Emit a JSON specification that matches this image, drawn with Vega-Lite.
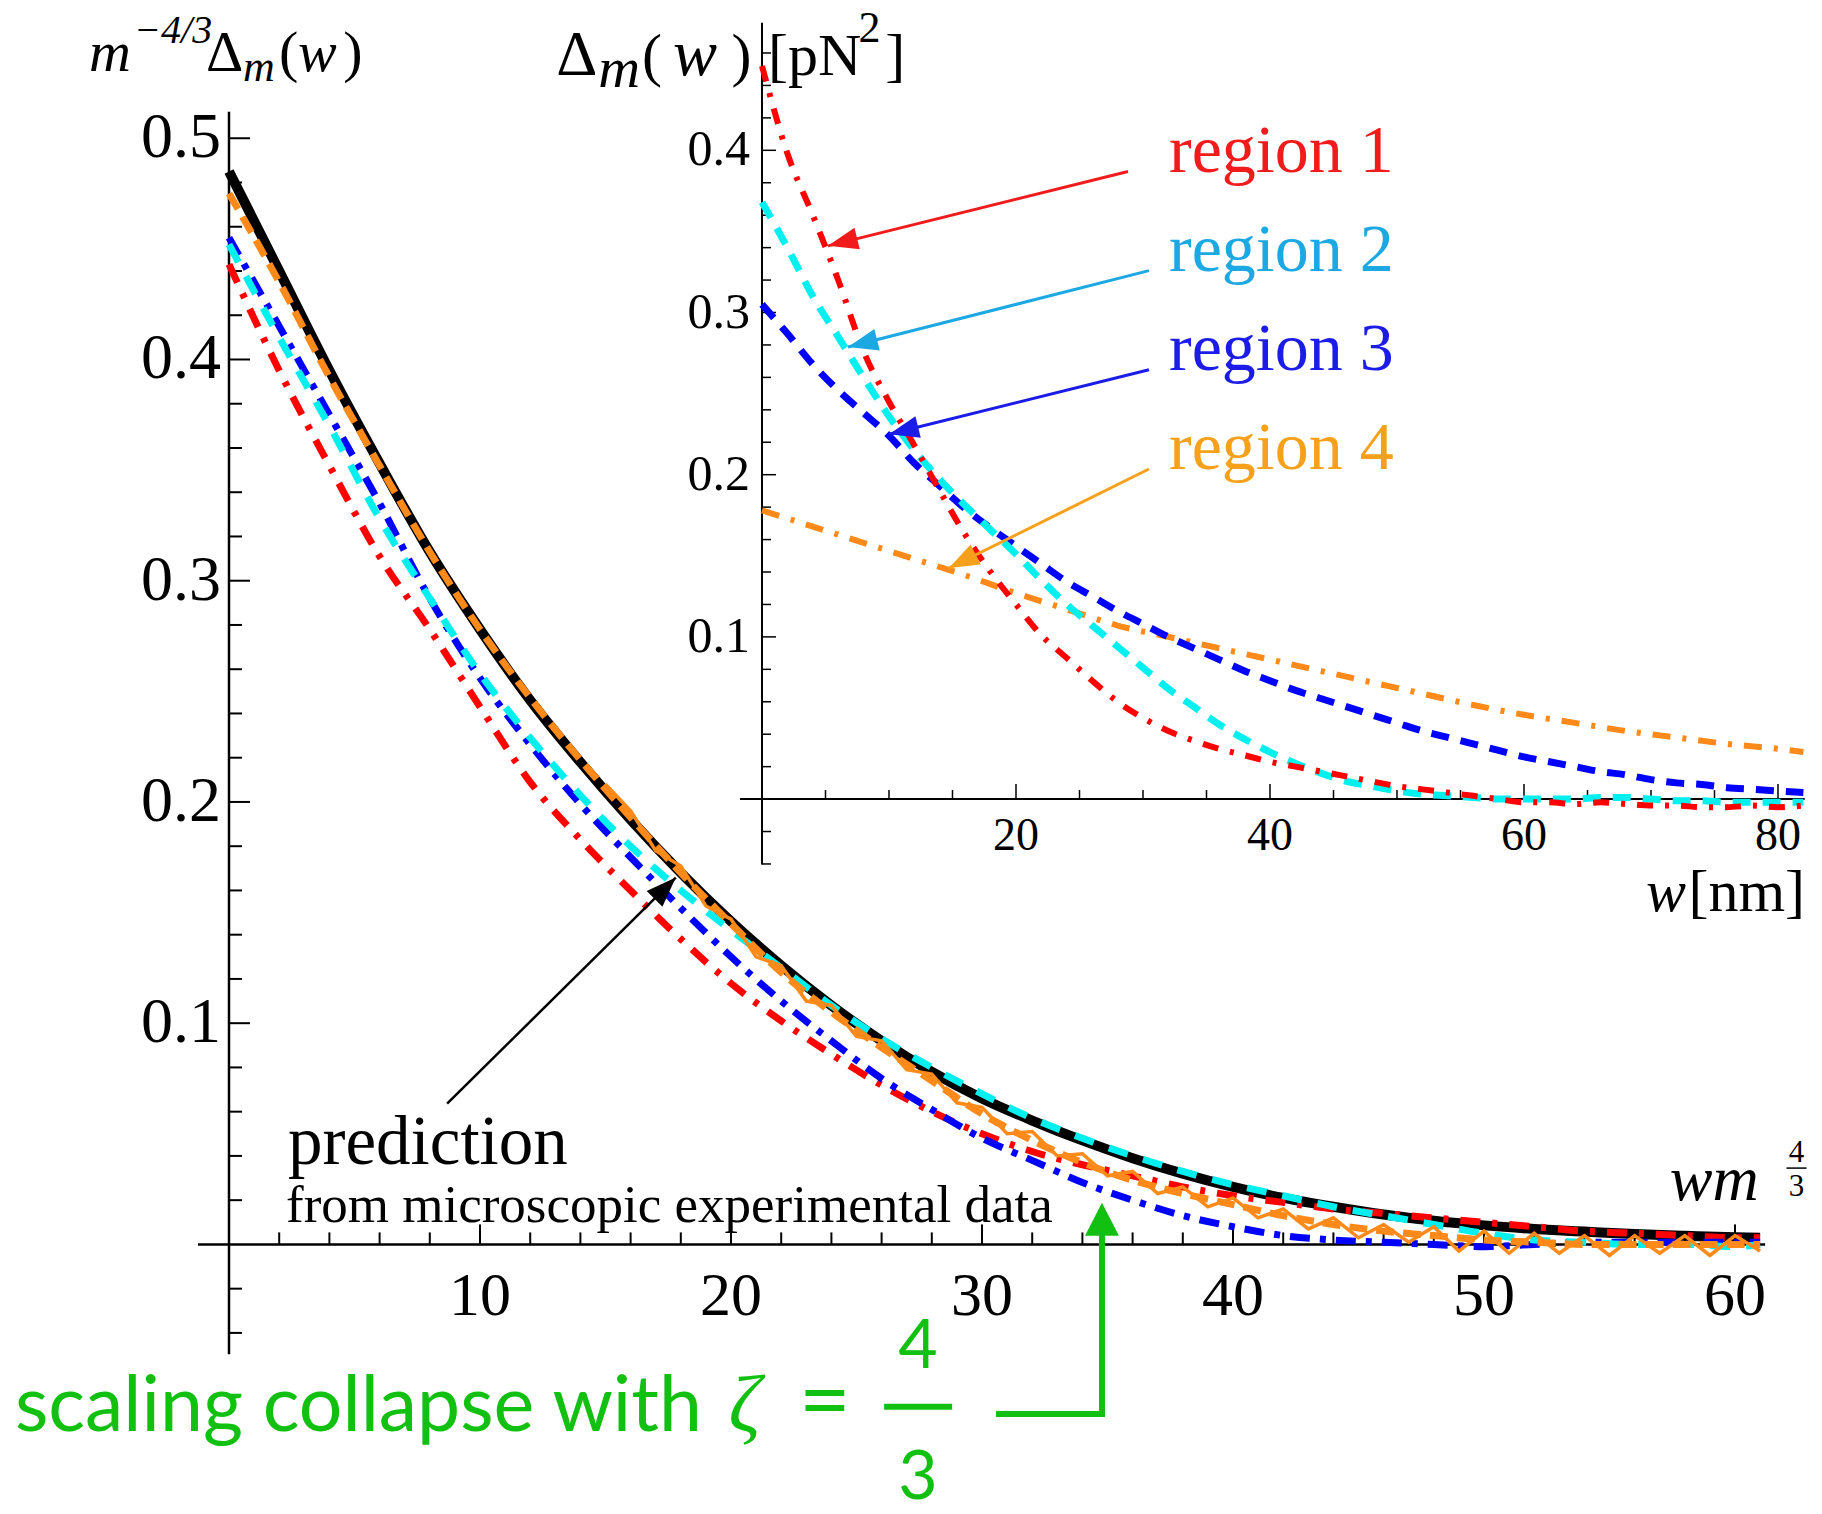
{
  "$schema": "https://vega.github.io/schema/vega-lite/v6.json",
  "width": 1822,
  "height": 1514,
  "autosize": {"type": "fit", "contains": "padding"},
  "padding": 0,
  "background": "white",
  "config": {"view": {"stroke": null}},
  "resolve": {"scale": {"x": "independent", "y": "independent"}},
  "layer": [
    {
      "encoding": {
        "x": {"field": "x", "type": "quantitative", "scale": {"domain": [-9.1235, 63.466], "nice": false, "zero": false}, "axis": null},
        "y": {"field": "y", "type": "quantitative", "scale": {"domain": [-0.11598, 0.56249], "nice": false, "zero": false}, "axis": null}
      },
      "layer": [
        {
          "data": {"values": [{"x": 0, "y": -0.0497, "x2": 0, "y2": 0.512}, {"x": -1.235, "y": 0, "x2": 61.2, "y2": 0}]},
          "mark": {"type": "rule", "color": "black", "strokeWidth": 2.5},
          "encoding": {"x2": {"field": "x2"}, "y2": {"field": "y2"}}
        },
        {
          "data": {"values": [{"x":0,"y":-0.04},{"x":0,"y":-0.02},{"x":0,"y":0.02},{"x":0,"y":0.04},{"x":0,"y":0.06},{"x":0,"y":0.08},{"x":0,"y":0.12},{"x":0,"y":0.14},{"x":0,"y":0.16},{"x":0,"y":0.18},{"x":0,"y":0.22},{"x":0,"y":0.24},{"x":0,"y":0.26},{"x":0,"y":0.28},{"x":0,"y":0.32},{"x":0,"y":0.34},{"x":0,"y":0.36},{"x":0,"y":0.38},{"x":0,"y":0.42},{"x":0,"y":0.44},{"x":0,"y":0.46},{"x":0,"y":0.48}]},
          "mark": {"type": "tick", "orient": "horizontal", "size": 13, "thickness": 2, "xOffset": 6.5, "color": "black", "opacity": 1}
        },
        {
          "data": {"values": [{"x":0,"y":0.1,"t":"0.1"},{"x":0,"y":0.2,"t":"0.2"},{"x":0,"y":0.3,"t":"0.3"},{"x":0,"y":0.4,"t":"0.4"},{"x":0,"y":0.5,"t":"0.5"}]},
          "layer": [
            {"mark": {"type": "tick", "orient": "horizontal", "size": 21, "thickness": 2, "xOffset": 10.5, "color": "black", "opacity": 1}},
            {"mark": {"type": "text", "align": "right", "baseline": "middle", "dx": -8, "font": "Liberation Serif", "fontSize": 64, "color": "black"}, "encoding": {"text": {"field": "t"}}}
          ]
        },
        {
          "data": {"values": [{"x":2,"y":0},{"x":4,"y":0},{"x":6,"y":0},{"x":8,"y":0},{"x":12,"y":0},{"x":14,"y":0},{"x":16,"y":0},{"x":18,"y":0},{"x":22,"y":0},{"x":24,"y":0},{"x":26,"y":0},{"x":28,"y":0},{"x":32,"y":0},{"x":34,"y":0},{"x":36,"y":0},{"x":38,"y":0},{"x":42,"y":0},{"x":44,"y":0},{"x":46,"y":0},{"x":48,"y":0},{"x":52,"y":0},{"x":54,"y":0},{"x":56,"y":0},{"x":58,"y":0}]},
          "mark": {"type": "tick", "orient": "vertical", "size": 12, "thickness": 2, "yOffset": -6, "color": "black", "opacity": 1}
        },
        {
          "data": {"values": [{"x":10,"y":0,"t":"10"},{"x":20,"y":0,"t":"20"},{"x":30,"y":0,"t":"30"},{"x":40,"y":0,"t":"40"},{"x":50,"y":0,"t":"50"},{"x":60,"y":0,"t":"60"}]},
          "layer": [
            {"mark": {"type": "tick", "orient": "vertical", "size": 20, "thickness": 2, "yOffset": -10, "color": "black", "opacity": 1}},
            {"mark": {"type": "text", "align": "center", "baseline": "middle", "dy": 52, "font": "Liberation Serif", "fontSize": 62, "color": "black"}, "encoding": {"text": {"field": "t"}}}
          ]
        },
        {
          "data": {"values": [{"x":0,"y":0.485},{"x":2,"y":0.44},{"x":4,"y":0.395},{"x":6,"y":0.353},{"x":8,"y":0.313},{"x":10,"y":0.278},{"x":12,"y":0.246},{"x":14,"y":0.218},{"x":16,"y":0.192},{"x":18,"y":0.168},{"x":20,"y":0.146},{"x":22,"y":0.126},{"x":24,"y":0.108},{"x":26,"y":0.092},{"x":28,"y":0.078},{"x":30,"y":0.066},{"x":32,"y":0.056},{"x":34,"y":0.047},{"x":36,"y":0.039},{"x":38,"y":0.032},{"x":40,"y":0.026},{"x":42,"y":0.021},{"x":44,"y":0.017},{"x":46,"y":0.0135},{"x":48,"y":0.0107},{"x":50,"y":0.0086},{"x":52,"y":0.007},{"x":54,"y":0.0058},{"x":56,"y":0.0047},{"x":58,"y":0.0039},{"x":60,"y":0.0032},{"x":61,"y":0.003}]},
          "mark": {"type": "line", "color": "black", "strokeWidth": 10, "interpolate": "monotone"}
        },
        {
          "data": {"values": [{"x":0,"y":0.443},{"x":2,"y":0.395},{"x":4,"y":0.352},{"x":6,"y":0.311},{"x":8,"y":0.278},{"x":10,"y":0.243},{"x":12,"y":0.209},{"x":14,"y":0.183},{"x":16,"y":0.16},{"x":18,"y":0.138},{"x":20,"y":0.118},{"x":22,"y":0.101},{"x":24,"y":0.086},{"x":26,"y":0.072},{"x":28,"y":0.06},{"x":30,"y":0.05},{"x":32,"y":0.042},{"x":34,"y":0.036},{"x":36,"y":0.031},{"x":38,"y":0.026},{"x":40,"y":0.022},{"x":42,"y":0.019},{"x":44,"y":0.016},{"x":46,"y":0.014},{"x":48,"y":0.012},{"x":50,"y":0.01},{"x":52,"y":0.008},{"x":54,"y":0.006},{"x":56,"y":0.005},{"x":58,"y":0.004},{"x":60,"y":0.003},{"x":61,"y":0.003}]},
          "mark": {"type": "line", "color": "#FF0000", "strokeWidth": 7, "strokeDash": [20, 12, 5, 12], "interpolate": "monotone"}
        },
        {
          "data": {"values": [{"x":0,"y":0.455},{"x":2,"y":0.415},{"x":4,"y":0.375},{"x":6,"y":0.335},{"x":8,"y":0.292},{"x":10,"y":0.256},{"x":12,"y":0.226},{"x":14,"y":0.199},{"x":16,"y":0.175},{"x":18,"y":0.152},{"x":20,"y":0.13},{"x":22,"y":0.11},{"x":24,"y":0.092},{"x":26,"y":0.075},{"x":28,"y":0.061},{"x":30,"y":0.048},{"x":32,"y":0.038},{"x":34,"y":0.028},{"x":36,"y":0.02},{"x":38,"y":0.013},{"x":40,"y":0.008},{"x":42,"y":0.004},{"x":44,"y":0.002},{"x":46,"y":0.001},{"x":48,"y":0.0},{"x":50,"y":-0.001},{"x":52,"y":0.0},{"x":54,"y":0.001},{"x":56,"y":0.001},{"x":58,"y":0.001},{"x":60,"y":0.001},{"x":61,"y":0.001}]},
          "mark": {"type": "line", "color": "#0000FF", "strokeWidth": 7, "strokeDash": [20, 10, 6, 10], "interpolate": "monotone"}
        },
        {
          "data": {"values": [{"x":0,"y":0.452},{"x":2,"y":0.41},{"x":4,"y":0.37},{"x":6,"y":0.328},{"x":8,"y":0.292},{"x":10,"y":0.258},{"x":12,"y":0.229},{"x":14,"y":0.203},{"x":16,"y":0.18},{"x":18,"y":0.16},{"x":20,"y":0.142},{"x":22,"y":0.125},{"x":24,"y":0.108},{"x":26,"y":0.093},{"x":28,"y":0.08},{"x":30,"y":0.068},{"x":32,"y":0.057},{"x":34,"y":0.048},{"x":36,"y":0.04},{"x":38,"y":0.033},{"x":40,"y":0.027},{"x":42,"y":0.022},{"x":44,"y":0.017},{"x":46,"y":0.013},{"x":48,"y":0.009},{"x":50,"y":0.005},{"x":52,"y":0.002},{"x":54,"y":0.001},{"x":56,"y":0.0},{"x":58,"y":0.0},{"x":60,"y":-0.001},{"x":61,"y":0.0}]},
          "mark": {"type": "line", "color": "#00F0F0", "strokeWidth": 7, "strokeDash": [20, 16], "interpolate": "monotone"}
        },
        {
          "data": {"values": [{"x":15,"y":0.208},{"x":16,"y":0.196},{"x":17,"y":0.178},{"x":18,"y":0.171},{"x":19,"y":0.153},{"x":20,"y":0.147},{"x":21,"y":0.13},{"x":22,"y":0.126},{"x":23,"y":0.11},{"x":24,"y":0.108},{"x":25,"y":0.094},{"x":26,"y":0.092},{"x":27,"y":0.079},{"x":28,"y":0.077},{"x":29,"y":0.064},{"x":30,"y":0.062},{"x":31,"y":0.05},{"x":32,"y":0.051},{"x":33,"y":0.04},{"x":34,"y":0.041},{"x":35,"y":0.031},{"x":36,"y":0.033},{"x":37,"y":0.023},{"x":38,"y":0.026},{"x":39,"y":0.017},{"x":40,"y":0.021},{"x":41,"y":0.012},{"x":42,"y":0.016},{"x":43,"y":0.007},{"x":44,"y":0.012},{"x":45,"y":0.003},{"x":46,"y":0.009},{"x":47,"y":0.001},{"x":48,"y":0.008},{"x":49,"y":-0.003},{"x":50,"y":0.006},{"x":51,"y":-0.004},{"x":52,"y":0.005},{"x":53,"y":-0.004},{"x":54,"y":0.004},{"x":55,"y":-0.005},{"x":56,"y":0.004},{"x":57,"y":-0.004},{"x":58,"y":0.004},{"x":59,"y":-0.005},{"x":60,"y":0.004},{"x":61,"y":-0.003}]},
          "mark": {"type": "line", "color": "#FF8A1A", "strokeWidth": 3.5}
        },
        {
          "data": {"values": [{"x":0,"y":0.475},{"x":2,"y":0.435},{"x":4,"y":0.392},{"x":6,"y":0.352},{"x":8,"y":0.313},{"x":10,"y":0.278},{"x":12,"y":0.247},{"x":14,"y":0.219},{"x":16,"y":0.193},{"x":18,"y":0.168},{"x":20,"y":0.145},{"x":22,"y":0.123},{"x":24,"y":0.105},{"x":26,"y":0.089},{"x":28,"y":0.074},{"x":30,"y":0.059},{"x":32,"y":0.047},{"x":34,"y":0.037},{"x":36,"y":0.029},{"x":38,"y":0.023},{"x":40,"y":0.018},{"x":42,"y":0.013},{"x":44,"y":0.009},{"x":46,"y":0.006},{"x":48,"y":0.004},{"x":50,"y":0.002},{"x":52,"y":0.001},{"x":54,"y":0.0},{"x":56,"y":0.0},{"x":58,"y":0.0},{"x":60,"y":0.0},{"x":61,"y":0.0}]},
          "mark": {"type": "line", "color": "#FF8A1A", "strokeWidth": 7, "strokeDash": [18, 9], "interpolate": "monotone"}
        },
        {
          "data": {"values": [{"x": 8.69, "y": 0.0636, "x2": 17.8, "y2": 0.1658}]},
          "mark": {"type": "rule", "color": "black", "strokeWidth": 2.5},
          "encoding": {"x2": {"field": "x2"}, "y2": {"field": "y2"}}
        },
        {
          "data": {"values": [{"x": 17.8, "y": 0.1658}]},
          "mark": {"type": "point", "shape": "M0,0L0.37,1L-0.37,1Z", "size": 3600, "angle": 45, "filled": true, "color": "black", "opacity": 1}
        },
        {
          "data": {"values": [{"x": 2.35, "y": 0.0364, "t": "prediction"}]},
          "mark": {"type": "text", "align": "left", "baseline": "alphabetic", "font": "Liberation Serif", "fontSize": 69, "color": "black"},
          "encoding": {"text": {"field": "t"}}
        },
        {
          "data": {"values": [{"x": 2.27, "y": 0.00995, "t": "from microscopic experimental data"}]},
          "mark": {"type": "text", "align": "left", "baseline": "alphabetic", "font": "Liberation Serif", "fontSize": 53, "color": "black"},
          "encoding": {"text": {"field": "t"}}
        },
        {
          "data": {"values": [{"x": -5.58, "y": 0.5302, "t": "m"}, {"x": 2.75, "y": 0.5302, "t": "w"}]},
          "mark": {"type": "text", "align": "left", "baseline": "alphabetic", "font": "Liberation Serif", "fontStyle": "italic", "fontSize": 58, "color": "black"},
          "encoding": {"text": {"field": "t"}}
        },
        {
          "data": {"values": [{"x": 57.4, "y": 0.0203, "t": "wm"}]},
          "mark": {"type": "text", "align": "left", "baseline": "alphabetic", "font": "Liberation Serif", "fontStyle": "italic", "fontSize": 64, "color": "black"},
          "encoding": {"text": {"field": "t"}}
        },
        {
          "data": {"values": [{"x": -3.78, "y": 0.5432, "t": "−4/3"}]},
          "mark": {"type": "text", "align": "left", "baseline": "alphabetic", "font": "Liberation Serif", "fontStyle": "italic", "fontSize": 40, "color": "black"},
          "encoding": {"text": {"field": "t"}}
        },
        {
          "data": {"values": [{"x": 0.56, "y": 0.5257, "t": "m"}]},
          "mark": {"type": "text", "align": "left", "baseline": "alphabetic", "font": "Liberation Serif", "fontStyle": "italic", "fontSize": 44, "color": "black"},
          "encoding": {"text": {"field": "t"}}
        },
        {
          "data": {"values": [{"x": -0.92, "y": 0.5302, "t": "Δ"}, {"x": 1.99, "y": 0.5302, "t": "("}, {"x": 4.55, "y": 0.5302, "t": ")"}]},
          "mark": {"type": "text", "align": "left", "baseline": "alphabetic", "font": "Liberation Serif", "fontSize": 58, "color": "black"},
          "encoding": {"text": {"field": "t"}}
        },
        {
          "data": {"values": [{"x": 62.45, "y": 0.0373, "t": "4"}, {"x": 62.45, "y": 0.022, "t": "3"}]},
          "mark": {"type": "text", "align": "center", "baseline": "alphabetic", "font": "Liberation Serif", "fontSize": 31, "color": "black"},
          "encoding": {"text": {"field": "t"}}
        },
        {
          "data": {"values": [{"x": 62.05, "y": 0.0345, "x2": 62.85, "y2": 0.0345}]},
          "mark": {"type": "rule", "color": "black", "strokeWidth": 1.5},
          "encoding": {"x2": {"field": "x2"}, "y2": {"field": "y2"}}
        },
        {
          "data": {"values": [{"x": 34.78, "y": -0.0767, "x2": 34.78, "y2": 0.006}, {"x": 30.68, "y": -0.0767, "x2": 34.78, "y2": -0.0767}, {"x": 26.22, "y": -0.0734, "x2": 28.69, "y2": -0.0734}]},
          "mark": {"type": "rule", "color": "#12C012", "strokeWidth": 6, "strokeCap": "square"},
          "encoding": {"x2": {"field": "x2"}, "y2": {"field": "y2"}}
        },
        {
          "data": {"values": [{"x": 34.78, "y": 0.0188}]},
          "mark": {"type": "point", "shape": "M0,0L1,1.94L-1,1.94Z", "size": 1156, "filled": true, "color": "#12C012", "opacity": 1}
        },
        {
          "data": {"values": [{"x": -8.526, "y": -0.0842, "t": "scaling collapse with"}]},
          "mark": {"type": "text", "align": "left", "baseline": "alphabetic", "font": "Lato", "fontSize": 77, "color": "#12C012"},
          "encoding": {"text": {"field": "t"}}
        },
        {
          "data": {"values": [{"x": 19.9, "y": -0.0842, "t": "ζ"}]},
          "mark": {"type": "text", "align": "left", "baseline": "alphabetic", "font": "Liberation Serif", "fontStyle": "italic", "fontSize": 80, "color": "#12C012"},
          "encoding": {"text": {"field": "t"}}
        },
        {
          "data": {"values": [{"x": 22.7, "y": -0.0842, "t": "="}]},
          "mark": {"type": "text", "align": "left", "baseline": "alphabetic", "font": "Lato", "fontSize": 90, "color": "#12C012"},
          "encoding": {"text": {"field": "t"}}
        },
        {
          "data": {"values": [{"x": 27.45, "y": -0.056, "t": "4"}, {"x": 27.45, "y": -0.1151, "t": "3"}]},
          "mark": {"type": "text", "align": "center", "baseline": "alphabetic", "font": "Lato", "fontSize": 68, "color": "#12C012"},
          "encoding": {"text": {"field": "t"}}
        }
      ]
    },
    {
      "encoding": {
        "x": {"field": "x", "type": "quantitative", "scale": {"domain": [-60.0, 83.465], "nice": false, "zero": false}, "axis": null},
        "y": {"field": "y", "type": "quantitative", "scale": {"domain": [-0.43276, 0.49267], "nice": false, "zero": false}, "axis": null}
      },
      "layer": [
        {
          "data": {"values": [{"x": 0, "y": -0.0403, "x2": 0, "y2": 0.4786}, {"x": -1.73, "y": 0, "x2": 82.1, "y2": 0}]},
          "mark": {"type": "rule", "color": "black", "strokeWidth": 2},
          "encoding": {"x2": {"field": "x2"}, "y2": {"field": "y2"}}
        },
        {
          "data": {"values": [{"x":0,"y":-0.04},{"x":0,"y":-0.02},{"x":0,"y":0.02},{"x":0,"y":0.04},{"x":0,"y":0.06},{"x":0,"y":0.08},{"x":0,"y":0.12},{"x":0,"y":0.14},{"x":0,"y":0.16},{"x":0,"y":0.18},{"x":0,"y":0.22},{"x":0,"y":0.24},{"x":0,"y":0.26},{"x":0,"y":0.28},{"x":0,"y":0.32},{"x":0,"y":0.34},{"x":0,"y":0.36},{"x":0,"y":0.38},{"x":0,"y":0.42},{"x":0,"y":0.44},{"x":0,"y":0.46}]},
          "mark": {"type": "tick", "orient": "horizontal", "size": 9, "thickness": 1.5, "xOffset": 4.5, "color": "black", "opacity": 1}
        },
        {
          "data": {"values": [{"x":0,"y":0.1,"t":"0.1"},{"x":0,"y":0.2,"t":"0.2"},{"x":0,"y":0.3,"t":"0.3"},{"x":0,"y":0.4,"t":"0.4"}]},
          "layer": [
            {"mark": {"type": "tick", "orient": "horizontal", "size": 14, "thickness": 1.5, "xOffset": 7, "color": "black", "opacity": 1}},
            {"mark": {"type": "text", "align": "right", "baseline": "middle", "dx": -12, "font": "Liberation Serif", "fontSize": 50, "color": "black"}, "encoding": {"text": {"field": "t"}}}
          ]
        },
        {
          "data": {"values": [{"x":5,"y":0},{"x":10,"y":0},{"x":15,"y":0},{"x":25,"y":0},{"x":30,"y":0},{"x":35,"y":0},{"x":45,"y":0},{"x":50,"y":0},{"x":55,"y":0},{"x":65,"y":0},{"x":70,"y":0},{"x":75,"y":0}]},
          "mark": {"type": "tick", "orient": "vertical", "size": 9, "thickness": 1.5, "yOffset": -4.5, "color": "black", "opacity": 1}
        },
        {
          "data": {"values": [{"x":20,"y":0,"t":"20"},{"x":40,"y":0,"t":"40"},{"x":60,"y":0,"t":"60"},{"x":80,"y":0,"t":"80"}]},
          "layer": [
            {"mark": {"type": "tick", "orient": "vertical", "size": 15, "thickness": 1.5, "yOffset": -7.5, "color": "black", "opacity": 1}},
            {"mark": {"type": "text", "align": "center", "baseline": "middle", "dy": 37, "font": "Liberation Serif", "fontSize": 46, "color": "black"}, "encoding": {"text": {"field": "t"}}}
          ]
        },
        {
          "data": {"values": [{"x":0,"y":0.178},{"x":4,"y":0.168},{"x":8,"y":0.158},{"x":12,"y":0.148},{"x":16,"y":0.138},{"x":20,"y":0.127},{"x":24,"y":0.117},{"x":28,"y":0.107},{"x":32,"y":0.1},{"x":36,"y":0.093},{"x":40,"y":0.086},{"x":44,"y":0.079},{"x":48,"y":0.072},{"x":52,"y":0.065},{"x":56,"y":0.058},{"x":60,"y":0.052},{"x":64,"y":0.047},{"x":68,"y":0.042},{"x":72,"y":0.038},{"x":76,"y":0.034},{"x":80,"y":0.031},{"x":82,"y":0.029}]},
          "mark": {"type": "line", "color": "#FF8A1A", "strokeWidth": 6, "strokeDash": [18, 12, 4, 12], "interpolate": "monotone"}
        },
        {
          "data": {"values": [{"x":0,"y":0.305},{"x":2,"y":0.287},{"x":4,"y":0.268},{"x":6,"y":0.252},{"x":8,"y":0.238},{"x":10,"y":0.224},{"x":12,"y":0.207},{"x":14,"y":0.193},{"x":16,"y":0.179},{"x":18,"y":0.167},{"x":20,"y":0.156},{"x":22,"y":0.145},{"x":24,"y":0.134},{"x":26,"y":0.125},{"x":28,"y":0.116},{"x":30,"y":0.108},{"x":32,"y":0.1},{"x":34,"y":0.093},{"x":36,"y":0.086},{"x":38,"y":0.079},{"x":40,"y":0.073},{"x":42,"y":0.067},{"x":44,"y":0.062},{"x":46,"y":0.057},{"x":48,"y":0.052},{"x":50,"y":0.047},{"x":52,"y":0.042},{"x":54,"y":0.038},{"x":56,"y":0.034},{"x":58,"y":0.03},{"x":60,"y":0.026},{"x":62,"y":0.023},{"x":64,"y":0.02},{"x":66,"y":0.017},{"x":68,"y":0.015},{"x":70,"y":0.012},{"x":72,"y":0.01},{"x":74,"y":0.009},{"x":76,"y":0.007},{"x":78,"y":0.006},{"x":80,"y":0.005},{"x":82,"y":0.004}]},
          "mark": {"type": "line", "color": "#0000FF", "strokeWidth": 7, "strokeDash": [18, 12], "interpolate": "monotone"}
        },
        {
          "data": {"values": [{"x":0,"y":0.368},{"x":2,"y":0.34},{"x":4,"y":0.31},{"x":6,"y":0.285},{"x":8,"y":0.26},{"x":10,"y":0.236},{"x":12,"y":0.215},{"x":14,"y":0.197},{"x":16,"y":0.181},{"x":18,"y":0.166},{"x":20,"y":0.151},{"x":22,"y":0.135},{"x":24,"y":0.12},{"x":26,"y":0.107},{"x":28,"y":0.094},{"x":30,"y":0.081},{"x":32,"y":0.068},{"x":34,"y":0.057},{"x":36,"y":0.046},{"x":38,"y":0.037},{"x":40,"y":0.029},{"x":42,"y":0.022},{"x":44,"y":0.016},{"x":46,"y":0.011},{"x":48,"y":0.008},{"x":50,"y":0.005},{"x":52,"y":0.003},{"x":54,"y":0.002},{"x":56,"y":0.001},{"x":58,"y":0.0},{"x":60,"y":0.0},{"x":62,"y":0.0},{"x":64,"y":0.0},{"x":66,"y":0.001},{"x":68,"y":0.001},{"x":70,"y":0.0},{"x":72,"y":-0.001},{"x":74,"y":-0.001},{"x":76,"y":-0.002},{"x":78,"y":-0.002},{"x":80,"y":-0.002},{"x":82,"y":-0.002}]},
          "mark": {"type": "line", "color": "#00F0F0", "strokeWidth": 7, "strokeDash": [18, 12], "interpolate": "monotone"}
        },
        {
          "data": {"values": [{"x":0,"y":0.452},{"x":2,"y":0.398},{"x":4,"y":0.36},{"x":6,"y":0.32},{"x":8,"y":0.276},{"x":10,"y":0.245},{"x":12,"y":0.218},{"x":14,"y":0.19},{"x":16,"y":0.163},{"x":18,"y":0.14},{"x":20,"y":0.12},{"x":22,"y":0.101},{"x":24,"y":0.087},{"x":26,"y":0.073},{"x":28,"y":0.06},{"x":30,"y":0.05},{"x":32,"y":0.042},{"x":34,"y":0.036},{"x":36,"y":0.031},{"x":38,"y":0.027},{"x":40,"y":0.023},{"x":42,"y":0.02},{"x":44,"y":0.017},{"x":46,"y":0.014},{"x":48,"y":0.011},{"x":50,"y":0.008},{"x":52,"y":0.006},{"x":54,"y":0.004},{"x":56,"y":0.002},{"x":58,"y":0.0},{"x":60,"y":-0.002},{"x":62,"y":-0.002},{"x":64,"y":-0.003},{"x":66,"y":-0.002},{"x":68,"y":-0.003},{"x":70,"y":-0.004},{"x":72,"y":-0.004},{"x":74,"y":-0.005},{"x":76,"y":-0.005},{"x":78,"y":-0.004},{"x":80,"y":-0.005},{"x":82,"y":-0.004}]},
          "mark": {"type": "line", "color": "#FF0000", "strokeWidth": 6, "strokeDash": [16, 12, 4, 12], "interpolate": "monotone"}
        },
        {
          "data": {"values": [{"x": 28.82, "y": 0.3869, "x2": 5.2, "y2": 0.3411}]},
          "layer": [
            {"mark": {"type": "rule", "color": "#F21B1B", "strokeWidth": 3}, "encoding": {"x2": {"field": "x2"}, "y2": {"field": "y2"}}},
            {"mark": {"type": "point", "shape": "M0,0L0.37,1L-0.37,1Z", "size": 3600, "angle": 256, "filled": true, "color": "#F21B1B", "opacity": 1}, "encoding": {"x": {"field": "x2", "type": "quantitative"}, "y": {"field": "y2", "type": "quantitative"}}}
          ]
        },
        {
          "data": {"values": [{"x": 30.47, "y": 0.3258, "x2": 6.77, "y2": 0.2787}]},
          "layer": [
            {"mark": {"type": "rule", "color": "#1CA8E3", "strokeWidth": 3}, "encoding": {"x2": {"field": "x2"}, "y2": {"field": "y2"}}},
            {"mark": {"type": "point", "shape": "M0,0L0.37,1L-0.37,1Z", "size": 3600, "angle": 256, "filled": true, "color": "#1CA8E3", "opacity": 1}, "encoding": {"x": {"field": "x2", "type": "quantitative"}, "y": {"field": "y2", "type": "quantitative"}}}
          ]
        },
        {
          "data": {"values": [{"x": 30.47, "y": 0.2647, "x2": 10.0, "y2": 0.2249}]},
          "layer": [
            {"mark": {"type": "rule", "color": "#1C1CE8", "strokeWidth": 3}, "encoding": {"x2": {"field": "x2"}, "y2": {"field": "y2"}}},
            {"mark": {"type": "point", "shape": "M0,0L0.37,1L-0.37,1Z", "size": 3600, "angle": 256, "filled": true, "color": "#1C1CE8", "opacity": 1}, "encoding": {"x": {"field": "x2", "type": "quantitative"}, "y": {"field": "y2", "type": "quantitative"}}}
          ]
        },
        {
          "data": {"values": [{"x": 30.47, "y": 0.2035, "x2": 14.72, "y2": 0.1424}]},
          "layer": [
            {"mark": {"type": "rule", "color": "#F7A01C", "strokeWidth": 3}, "encoding": {"x2": {"field": "x2"}, "y2": {"field": "y2"}}},
            {"mark": {"type": "point", "shape": "M0,0L0.37,1L-0.37,1Z", "size": 3600, "angle": 243, "filled": true, "color": "#F7A01C", "opacity": 1}, "encoding": {"x": {"field": "x2", "type": "quantitative"}, "y": {"field": "y2", "type": "quantitative"}}}
          ]
        },
        {
          "data": {"values": [{"x": 32.05, "y": 0.3869, "t": "region 1", "c": "r1"}, {"x": 32.05, "y": 0.3258, "t": "region 2", "c": "r2"}, {"x": 32.05, "y": 0.2647, "t": "region 3", "c": "r3"}, {"x": 32.05, "y": 0.2035, "t": "region 4", "c": "r4"}]},
          "mark": {"type": "text", "align": "left", "baseline": "alphabetic", "font": "Liberation Serif", "fontSize": 68},
          "encoding": {
            "text": {"field": "t"},
            "color": {"field": "c", "type": "nominal", "scale": {"domain": ["r1", "r2", "r3", "r4"], "range": ["#F21B1B", "#1CA8E3", "#1C1CE8", "#F7A01C"]}, "legend": null}
          }
        },
        {
          "data": {"values": [{"x": -16.2, "y": 0.4462, "t": "Δ"}]},
          "mark": {"type": "text", "align": "left", "baseline": "alphabetic", "font": "Liberation Serif", "fontSize": 64, "color": "black"},
          "encoding": {"text": {"field": "t"}}
        },
        {
          "data": {"values": [{"x": -9.45, "y": 0.4462, "t": "("}, {"x": -2.4, "y": 0.4462, "t": ")"}, {"x": 0.47, "y": 0.4462, "t": "[pN"}, {"x": 9.7, "y": 0.4462, "t": "]"}]},
          "mark": {"type": "text", "align": "left", "baseline": "alphabetic", "font": "Liberation Serif", "fontSize": 60, "color": "black"},
          "encoding": {"text": {"field": "t"}}
        },
        {
          "data": {"values": [{"x": -7.0, "y": 0.4462, "t": "w"}]},
          "mark": {"type": "text", "align": "left", "baseline": "alphabetic", "font": "Liberation Serif", "fontStyle": "italic", "fontSize": 66, "color": "black"},
          "encoding": {"text": {"field": "t"}}
        },
        {
          "data": {"values": [{"x": 69.6, "y": -0.069, "t": "w"}]},
          "mark": {"type": "text", "align": "left", "baseline": "alphabetic", "font": "Liberation Serif", "fontStyle": "italic", "fontSize": 60, "color": "black"},
          "encoding": {"text": {"field": "t"}}
        },
        {
          "data": {"values": [{"x": 72.95, "y": -0.069, "t": "[nm]"}]},
          "mark": {"type": "text", "align": "left", "baseline": "alphabetic", "font": "Liberation Serif", "fontSize": 60, "color": "black"},
          "encoding": {"text": {"field": "t"}}
        },
        {
          "data": {"values": [{"x": -12.9, "y": 0.4389, "t": "m"}]},
          "mark": {"type": "text", "align": "left", "baseline": "alphabetic", "font": "Liberation Serif", "fontStyle": "italic", "fontSize": 58, "color": "black"},
          "encoding": {"text": {"field": "t"}}
        },
        {
          "data": {"values": [{"x": 7.6, "y": 0.467, "t": "2"}]},
          "mark": {"type": "text", "align": "left", "baseline": "alphabetic", "font": "Liberation Serif", "fontSize": 44, "color": "black"},
          "encoding": {"text": {"field": "t"}}
        }
      ]
    }
  ]
}
